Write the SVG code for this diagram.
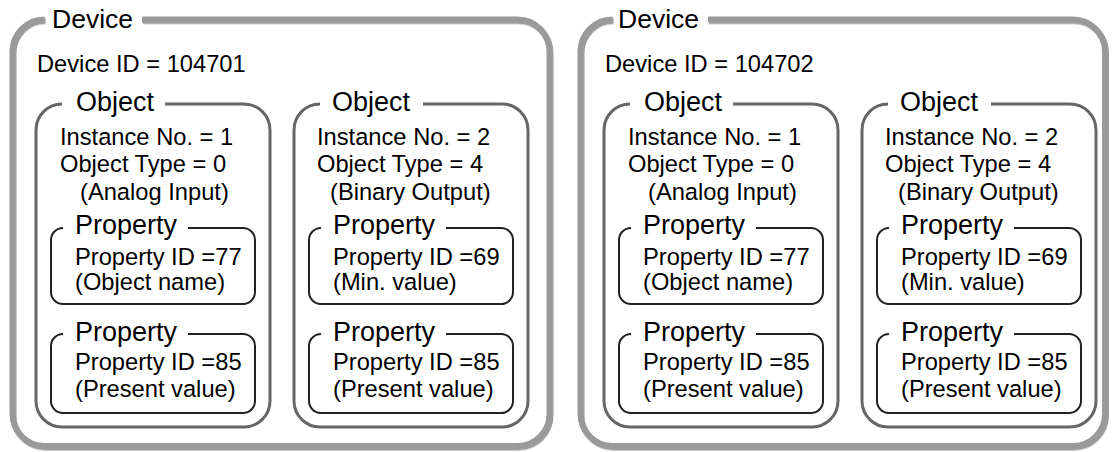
<svg xmlns="http://www.w3.org/2000/svg" width="1113" height="452" viewBox="0 0 1113 452">
<style>
text{font-family:"Liberation Sans",Arial,sans-serif;fill:#000}
.lbl{font-size:27px}
.dlbl{font-size:26.5px}
.txt{font-size:23.7px}
.dev{fill:none;stroke:#9a9a9a;stroke-width:6;filter:url(#sh)}
.obj{fill:none;stroke:#666;stroke-width:3}
.prop{fill:none;stroke:#222;stroke-width:2}
</style>
<defs>
<filter id="sh" x="-5%" y="-5%" width="110%" height="110%">
<feDropShadow dx="1" dy="1.5" stdDeviation="0.6" flood-color="#555" flood-opacity="0.6"/>
</filter>
</defs>
<rect width="1113" height="452" fill="#fff"/>
<g id="connectors"/>

<g id="device1">
<path class="dev" d="M142,19.5 H517.5 A32,32 0 0 1 549.5,51.5 V414 A32,32 0 0 1 517.5,446 H44.5 A32,32 0 0 1 12.5,414 V51.5 A32,32 0 0 1 44.5,19.5"/>
<text class="dlbl" x="52" y="28">Device</text>
<text class="txt" x="37" y="72">Device ID = 104701</text>
</g>
<g id="device1-object1" transform="translate(36,0)">
<path class="obj" d="M129,104 H208 A26,26 0 0 1 234,130 V401 A26,26 0 0 1 208,427 H26 A26,26 0 0 1 0,401 V130 A26,26 0 0 1 26,104"/>
<text class="lbl" x="40" y="111">Object</text>
<text class="txt" x="24" y="145">Instance No. = 1</text>
<text class="txt" x="24" y="172">Object Type = 0</text>
<text class="txt" x="44" y="200">(Analog Input)</text>
</g>
<g id="device1-object1-property1" transform="translate(36,0)">
<path class="prop" d="M152,228 H207 A12,12 0 0 1 219,240 V292 A12,12 0 0 1 207,304 H27 A12,12 0 0 1 15,292 V240 A12,12 0 0 1 27,228"/>
<text class="lbl" x="39" y="234">Property</text>
<text class="txt" x="39" y="265">Property ID =77</text>
<text class="txt" x="39" y="290">(Object name)</text>
</g>
<g id="device1-object1-property2" transform="translate(36,0)">
<path class="prop" d="M152,334 H207 A12,12 0 0 1 219,346 V401 A12,12 0 0 1 207,413 H27 A12,12 0 0 1 15,401 V346 A12,12 0 0 1 27,334"/>
<text class="lbl" x="39" y="341">Property</text>
<text class="txt" x="39" y="370">Property ID =85</text>
<text class="txt" x="39" y="397">(Present value)</text>
</g>
<g id="device1-object2" transform="translate(294,0)">
<path class="obj" d="M129,104 H208 A26,26 0 0 1 234,130 V401 A26,26 0 0 1 208,427 H26 A26,26 0 0 1 0,401 V130 A26,26 0 0 1 26,104"/>
<text class="lbl" x="38" y="111">Object</text>
<text class="txt" x="23" y="145">Instance No. = 2</text>
<text class="txt" x="23" y="172">Object Type = 4</text>
<text class="txt" x="36" y="200">(Binary Output)</text>
</g>
<g id="device1-object2-property1" transform="translate(294,0)">
<path class="prop" d="M152,228 H207 A12,12 0 0 1 219,240 V292 A12,12 0 0 1 207,304 H27 A12,12 0 0 1 15,292 V240 A12,12 0 0 1 27,228"/>
<text class="lbl" x="39" y="234">Property</text>
<text class="txt" x="39" y="265">Property ID =69</text>
<text class="txt" x="39" y="290">(Min. value)</text>
</g>
<g id="device1-object2-property2" transform="translate(294,0)">
<path class="prop" d="M152,334 H207 A12,12 0 0 1 219,346 V401 A12,12 0 0 1 207,413 H27 A12,12 0 0 1 15,401 V346 A12,12 0 0 1 27,334"/>
<text class="lbl" x="39" y="341">Property</text>
<text class="txt" x="39" y="370">Property ID =85</text>
<text class="txt" x="39" y="397">(Present value)</text>
</g>

<g id="device2">
<path class="dev" d="M708,19.5 H1073 A32,32 0 0 1 1105,51.5 V414 A32,32 0 0 1 1073,446 H612.5 A32,32 0 0 1 580.5,414 V51.5 A32,32 0 0 1 612.5,19.5"/>
<text class="dlbl" x="618" y="28">Device</text>
<text class="txt" x="605" y="72">Device ID = 104702</text>
</g>
<g id="device2-object1" transform="translate(604,0)">
<path class="obj" d="M129,104 H208 A26,26 0 0 1 234,130 V401 A26,26 0 0 1 208,427 H26 A26,26 0 0 1 0,401 V130 A26,26 0 0 1 26,104"/>
<text class="lbl" x="40" y="111">Object</text>
<text class="txt" x="24" y="145">Instance No. = 1</text>
<text class="txt" x="24" y="172">Object Type = 0</text>
<text class="txt" x="44" y="200">(Analog Input)</text>
</g>
<g id="device2-object1-property1" transform="translate(604,0)">
<path class="prop" d="M152,228 H207 A12,12 0 0 1 219,240 V292 A12,12 0 0 1 207,304 H27 A12,12 0 0 1 15,292 V240 A12,12 0 0 1 27,228"/>
<text class="lbl" x="39" y="234">Property</text>
<text class="txt" x="39" y="265">Property ID =77</text>
<text class="txt" x="39" y="290">(Object name)</text>
</g>
<g id="device2-object1-property2" transform="translate(604,0)">
<path class="prop" d="M152,334 H207 A12,12 0 0 1 219,346 V401 A12,12 0 0 1 207,413 H27 A12,12 0 0 1 15,401 V346 A12,12 0 0 1 27,334"/>
<text class="lbl" x="39" y="341">Property</text>
<text class="txt" x="39" y="370">Property ID =85</text>
<text class="txt" x="39" y="397">(Present value)</text>
</g>
<g id="device2-object2" transform="translate(862,0)">
<path class="obj" d="M129,104 H208 A26,26 0 0 1 234,130 V401 A26,26 0 0 1 208,427 H26 A26,26 0 0 1 0,401 V130 A26,26 0 0 1 26,104"/>
<text class="lbl" x="38" y="111">Object</text>
<text class="txt" x="23" y="145">Instance No. = 2</text>
<text class="txt" x="23" y="172">Object Type = 4</text>
<text class="txt" x="36" y="200">(Binary Output)</text>
</g>
<g id="device2-object2-property1" transform="translate(862,0)">
<path class="prop" d="M152,228 H207 A12,12 0 0 1 219,240 V292 A12,12 0 0 1 207,304 H27 A12,12 0 0 1 15,292 V240 A12,12 0 0 1 27,228"/>
<text class="lbl" x="39" y="234">Property</text>
<text class="txt" x="39" y="265">Property ID =69</text>
<text class="txt" x="39" y="290">(Min. value)</text>
</g>
<g id="device2-object2-property2" transform="translate(862,0)">
<path class="prop" d="M152,334 H207 A12,12 0 0 1 219,346 V401 A12,12 0 0 1 207,413 H27 A12,12 0 0 1 15,401 V346 A12,12 0 0 1 27,334"/>
<text class="lbl" x="39" y="341">Property</text>
<text class="txt" x="39" y="370">Property ID =85</text>
<text class="txt" x="39" y="397">(Present value)</text>
</g>
</svg>
